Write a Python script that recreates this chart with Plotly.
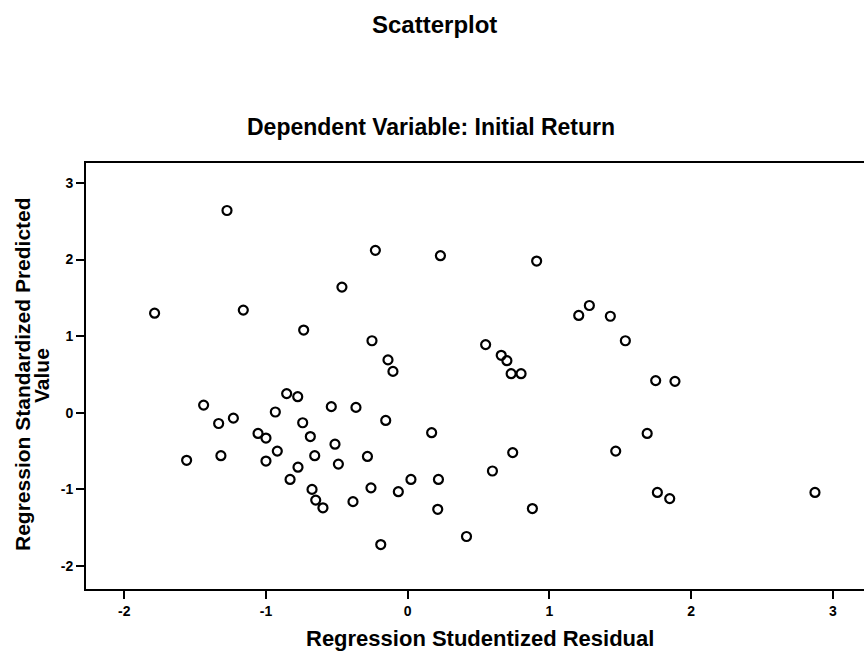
import plotly.graph_objects as go

# Regression Studentized Residual (x) and Regression Standardized Predicted Value (y)
residual = [
    -1.275, -1.786, -1.16, -0.464, -0.228, 0.231, -0.734, -0.252, -0.139, -0.104,
    0.91, 1.282, 1.207, 1.43, 1.536, 0.55, 0.66, 0.70, 0.73, 0.80,
    1.75, 1.886, 1.69, 1.468, 0.741, 0.598, 0.88, 1.762, 1.849, 2.874, 0.415,
    -1.44, -1.334, -1.23, -1.56, -1.318, -1.056, -1.0, -0.934, -0.854, -0.776,
    -0.92, -1.0, -0.741, -0.687, -0.656, -0.774, -0.83, -0.675, -0.649, -0.598,
    -0.539, -0.513, -0.489, -0.365, -0.386, -0.284, -0.259, -0.155, -0.19, -0.066,
    0.023, 0.169, 0.217, 0.212,
]
predicted = [
    2.64, 1.30, 1.34, 1.64, 2.12, 2.05, 1.08, 0.94, 0.69, 0.54,
    1.98, 1.40, 1.27, 1.26, 0.94, 0.89, 0.75, 0.68, 0.51, 0.51,
    0.42, 0.41, -0.27, -0.50, -0.52, -0.76, -1.25, -1.04, -1.12, -1.04, -1.615,
    0.10, -0.14, -0.07, -0.62, -0.56, -0.27, -0.33, 0.01, 0.25, 0.21,
    -0.50, -0.63, -0.13, -0.31, -0.56, -0.71, -0.87, -1.00, -1.14, -1.24,
    0.08, -0.41, -0.67, 0.07, -1.16, -0.57, -0.98, -0.10, -1.72, -1.03,
    -0.87, -0.26, -0.87, -1.26,
]

x_ticks = [-2, -1, 0, 1, 2, 3]
y_ticks = [-2, -1, 0, 1, 2, 3]

FONT = "Liberation Sans, Arial, sans-serif"

W, H = 864, 655
L, R, T, B = 86, 0, 163, 66
plot_w = W - L - R
plot_h = H - T - B


def px_x(px):
    return (px - L) / plot_w


def px_y(py):
    return (H - B - py) / plot_h


fig = go.Figure()
fig.add_trace(go.Scatter(
    x=residual, y=predicted, mode="markers",
    marker=dict(symbol="circle-open", size=9, color="black",
                line=dict(color="black", width=2.2)),
    showlegend=False, hoverinfo="skip",
))

ann = dict(xref="paper", yref="paper", showarrow=False,
           xanchor="center", yanchor="middle")
fig.update_layout(
    width=W, height=H,
    margin=dict(l=L, r=R, t=T, b=B),
    paper_bgcolor="white", plot_bgcolor="white",
    font=dict(family=FONT, color="black"),
    annotations=[
        dict(ann, text="<b>Scatterplot</b>", x=px_x(434), y=px_y(24),
             font=dict(size=24)),
        dict(ann, text="<b>Dependent Variable: Initial Return</b>",
             x=px_x(431), y=px_y(127), font=dict(size=23)),
        dict(ann, text="<b>Regression Studentized Residual</b>",
             x=px_x(480), y=px_y(638), font=dict(size=22)),
        dict(ann, text="<b>Regression Standardized Predicted</b>",
             x=px_x(22), y=px_y(374), textangle=-90, font=dict(size=21)),
        dict(ann, text="<b>Value</b>",
             x=px_x(41), y=px_y(376), textangle=-90, font=dict(size=21)),
    ],
)

fig.update_xaxes(
    range=[-2.27, 3.22], tickvals=x_ticks, ticktext=[str(v) for v in x_ticks],
    showgrid=False, zeroline=False, showline=True, linecolor="black", linewidth=2,
    mirror=True, ticks="outside", ticklen=8, tickwidth=2, tickcolor="black",
    tickfont=dict(size=14, family=FONT, weight="bold"),
)
fig.update_yaxes(
    range=[-2.30, 3.26], tickvals=y_ticks, ticktext=[str(v) for v in y_ticks],
    showgrid=False, zeroline=False, showline=True, linecolor="black", linewidth=2,
    ticks="outside", ticklen=8, tickwidth=2, tickcolor="black",
    tickfont=dict(size=14, family=FONT, weight="bold"),
)

fig.write_html("out.html", config={"displayModeBar": False},
               post_script="document.body.style.margin='0px';")
